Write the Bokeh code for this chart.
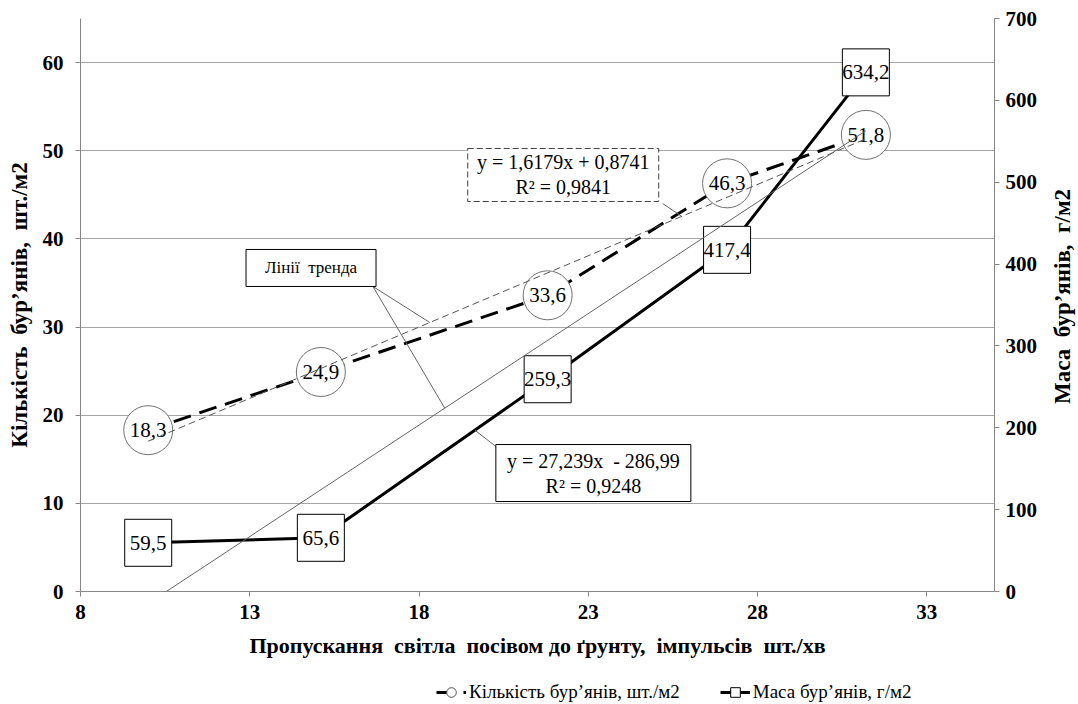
import numpy as np
from bokeh.plotting import figure
from bokeh.layouts import column, row
from bokeh.models import Range1d, LinearAxis, FixedTicker, Legend, LegendItem
from bokeh.core.properties import value
from bokeh.embed import file_html
from bokeh.resources import INLINE

# ---- data -------------------------------------------------------------
light = [10.0, 15.1, 21.8, 27.1, 31.2]          # light transmission, pulses/min
weed_count = [18.3, 24.9, 33.6, 46.3, 51.8]     # weeds, pcs/m2
weed_mass = [59.5, 65.6, 259.3, 417.4, 634.2]   # weed mass, g/m2

x_ticks = [8, 13, 18, 23, 28, 33]
count_ticks = [0, 10, 20, 30, 40, 50, 60]
mass_ticks = [0, 100, 200, 300, 400, 500, 600, 700]

# linear trends: slope, intercept, R^2
count_trend = (1.6179, 0.8741, 0.9841)
mass_trend = (27.239, -286.99, 0.9248)

# ---- styling ------------------------------------------------------------
SERIF = "Liberation Serif"
AXIS_GREY = "#868686"
X_MIN, X_MAX = 8, 35
Y_MAX = 65
M_MAX = 700
FRAME_W, FRAME_H = 915, 573
PX_X = (X_MAX - X_MIN) / FRAME_W     # data units per screen pixel
PX_Y = Y_MAX / FRAME_H
W, H = 1078, 704
LEGEND_H = 36
TITLE_W = 38                          # strip holding the right-hand axis title
TOP, FRAME_BOTTOM, FRAME_LEFT, FRAME_RIGHT = 18, 591, 80, 995
NB = "\u00a0 "                        # wide word gap that survives SVG whitespace folding


def fmt(v):
    return f"{v:.1f}".replace(".", ",")


def num(v, nd):
    return f"{v:.{nd}f}".replace(".", ",")


CHART_H = H - LEGEND_H
CHART_W = W - TITLE_W

p = figure(width=CHART_W, height=CHART_H,
           x_range=Range1d(X_MIN, X_MAX), y_range=Range1d(0, Y_MAX),
           output_backend="svg", toolbar_location=None,
           min_border_left=FRAME_LEFT, min_border_right=CHART_W - FRAME_RIGHT,
           min_border_top=TOP, min_border_bottom=CHART_H - FRAME_BOTTOM)
p.extra_y_ranges = {"mass": Range1d(0, M_MAX)}
p.outline_line_color = None
p.background_fill_color = "white"
p.border_fill_color = "white"

right_axis = LinearAxis(y_range_name="mass")
p.add_layout(right_axis, "right")

p.xaxis.ticker = FixedTicker(ticks=x_ticks)
p.yaxis[0].ticker = FixedTicker(ticks=count_ticks)
right_axis.ticker = FixedTicker(ticks=mass_ticks)

for ax in (p.xaxis[0], p.yaxis[0], right_axis):
    ax.axis_line_color = AXIS_GREY
    ax.major_tick_line_color = AXIS_GREY
    ax.major_tick_out = 5
    ax.major_tick_in = 0
    ax.minor_tick_line_color = None
    ax.major_label_text_font = SERIF
    ax.major_label_text_font_size = "21px"
    ax.major_label_text_font_style = "bold"
    ax.major_label_text_color = "black"
    ax.axis_label_text_font = SERIF
    ax.axis_label_text_font_style = "bold"
    ax.axis_label_text_font_size = "22px"
    ax.axis_label_text_color = "black"

p.xaxis.axis_label = f"Пропускання{NB}світла{NB}посівом до ґрунту,{NB}імпульсів{NB}шт./хв"
p.xaxis.major_label_standoff = 8
p.xaxis.axis_label_standoff = 11
p.yaxis[0].axis_label = f"Кількість{NB}бур’янів,{NB}шт./м2"
p.yaxis[0].axis_label_text_font_size = "23px"
p.yaxis[0].major_label_standoff = 12
p.yaxis[0].axis_label_standoff = 8
right_axis.major_label_standoff = 6

p.xgrid.visible = False
p.ygrid.ticker = FixedTicker(ticks=count_ticks)
p.ygrid.grid_line_color = "#a6a6a6"
p.ygrid.grid_line_width = 1

# ---- series -------------------------------------------------------------
count_line = p.line(light, weed_count, line_color="black", line_width=3, line_dash="18 9")
mass_line = p.line(light, weed_mass, y_range_name="mass", line_color="black", line_width=3)

count_pts = p.scatter(light, weed_count, marker="circle", size=49,
                      fill_color="white", line_color="#707070", line_width=1)
mass_pts = p.scatter(light, weed_mass, y_range_name="mass", marker="square", size=47,
                     fill_color="white", line_color="black", line_width=1)

p.text(light, weed_count, text=[fmt(v) for v in weed_count],
       text_font=value(SERIF), text_font_size="21px", text_color="black",
       text_align="center", text_baseline="middle")
p.text(light, weed_mass, text=[fmt(v) for v in weed_mass], y_range_name="mass",
       text_font=value(SERIF), text_font_size="21px", text_color="black",
       text_align="center", text_baseline="middle")

# ---- trend lines ----------------------------------------------------------
tx = np.array([light[0], light[-1]])
ca, cb, cr2 = count_trend
ma, mb, mr2 = mass_trend
p.line(tx, ca * tx + cb, line_color="#555555", line_width=1, line_dash="7 4")
p.line(tx, ma * tx + mb, y_range_name="mass", line_color="#666666", line_width=1)

# ---- callouts -------------------------------------------------------------
LEADER = "#666666"

# "Лінії тренда" box with leaders to both trend lines
tb_x, tb_y, tb_w, tb_h = 14.81, 36.7, 130, 37
corner_x, corner_y = tb_x + (tb_w / 2 - 3) * PX_X, tb_y - (tb_h / 2) * PX_Y
hit_c = 18.32
hit_m = 18.76
p.segment([corner_x, corner_x], [corner_y, corner_y],
          [hit_c, hit_m], [ca * hit_c + cb, (ma * hit_m + mb) * Y_MAX / M_MAX],
          line_color=LEADER, line_width=1)

# count-trend equation box
e1_x, e1_y, e1_w, e1_h = 22.26, 47.25, 191, 53
hit_e1 = 25.76
p.segment([e1_x + (e1_w / 2 + 4) * PX_X], [e1_y - (e1_h / 2 + 2) * PX_Y],
          [hit_e1], [ca * hit_e1 + cb], line_color=LEADER, line_width=1)

# mass-trend equation box
e2_x, e2_y, e2_w, e2_h = 23.15, 13.44, 195, 57
hit_e2 = 19.65
p.segment([e2_x - (e2_w / 2) * PX_X], [e2_y + (e2_h / 2 - 2) * PX_Y],
          [hit_e2], [np.interp(hit_e2, light, weed_mass) * Y_MAX / M_MAX],
          line_color=LEADER, line_width=1)

p.rect([tb_x], [tb_y], width=tb_w, height=tb_h, width_units="screen", height_units="screen",
       fill_color="white", line_color="black", line_width=1)
p.text([tb_x], [tb_y], text=[f"Лінії{NB}тренда"], text_font=value(SERIF), text_font_size="17px",
       text_color="black", text_align="center", text_baseline="middle")

p.rect([e1_x], [e1_y], width=e1_w, height=e1_h, width_units="screen", height_units="screen",
       fill_color="white", line_color="#404040", line_width=1, line_dash="6 3")
p.rect([e2_x], [e2_y], width=e2_w, height=e2_h, width_units="screen", height_units="screen",
       fill_color="white", line_color="black", line_width=1)

eq_texts = [
    (e1_x, e1_y, f"y = {num(ca, 4)}x + {num(cb, 4)}", f"R² = {num(cr2, 4)}"),
    (e2_x, e2_y, f"y = {num(ma, 3)}x{NB}- {num(-mb, 2)}", f"R² = {num(mr2, 4)}"),
]
for cx, cy, l1, l2 in eq_texts:
    p.text([cx, cx], [cy + 12.5 * PX_Y, cy - 12.5 * PX_Y], text=[l1, l2],
           text_font=value(SERIF), text_font_size="20px", text_color="black",
           text_align="center", text_baseline="middle")

# ---- right-hand axis title, reading bottom to top ----------------------------
rt = figure(width=TITLE_W, height=CHART_H, x_range=Range1d(0, 1), y_range=Range1d(0, 1),
            output_backend="svg", toolbar_location=None,
            x_axis_location=None, y_axis_location=None,
            min_border_left=0, min_border_right=0,
            min_border_top=TOP, min_border_bottom=CHART_H - FRAME_BOTTOM)
rt.outline_line_color = None
rt.grid.visible = False
rt.border_fill_color = "white"
rt.text([0.58], [0.515], text=[f"Маса{NB}бур’янів,{NB}г/м2"], angle=np.pi / 2,
        text_font=value(SERIF), text_font_size="23px", text_font_style="bold",
        text_color="black", text_align="center", text_baseline="middle")

# ---- legend strip under the chart -------------------------------------------
# the swatch renderers hold one point far outside the view, so only their legend keys show
lg = figure(width=W, height=LEGEND_H, x_range=Range1d(0, 10), y_range=Range1d(0, 10),
            output_backend="svg", toolbar_location=None,
            x_axis_location=None, y_axis_location=None,
            min_border_left=FRAME_LEFT, min_border_right=W - FRAME_RIGHT,
            min_border_top=0, min_border_bottom=0)
lg.outline_line_color = None
lg.grid.visible = False
lg.border_fill_color = "white"
off = [-100]
lg_count_line = lg.line(off, off, line_color="black", line_width=3, line_dash="18 9")
lg_count_pt = lg.scatter(off, off, marker="circle", fill_color="white", line_color="#505050", line_width=1)
lg_mass_line = lg.line(off, off, line_color="black", line_width=3)
lg_mass_pt = lg.scatter(off, off, marker="square", fill_color="white", line_color="black", line_width=1)

legend = Legend(items=[LegendItem(label="Кількість бур’янів, шт./м2", renderers=[lg_count_line, lg_count_pt]),
                       LegendItem(label="Маса бур’янів, г/м2", renderers=[lg_mass_line, lg_mass_pt])],
                orientation="horizontal", location=(356, 0),
                border_line_color=None, background_fill_alpha=0,
                label_text_font=SERIF, label_text_font_size="19px", label_text_color="black",
                glyph_width=30, glyph_height=24, spacing=40, padding=2, margin=0,
                label_standoff=3)
lg.add_layout(legend, "center")

layout = column(row(p, rt, spacing=0), lg, spacing=0)
open("out.html", "w").write(file_html(layout, INLINE))
